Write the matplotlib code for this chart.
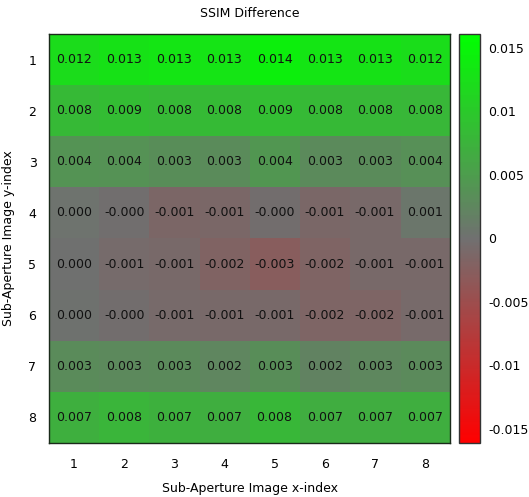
import numpy as np
import matplotlib.pyplot as plt
from matplotlib.colors import LinearSegmentedColormap

x_labels = ['1', '2', '3', '4', '5', '6', '7', '8']
y_labels = ['1', '2', '3', '4', '5', '6', '7', '8']

row1 = [0.0122, 0.0128, 0.0131, 0.0130, 0.0143, 0.0131, 0.0128, 0.0123]
row2 = [0.0082, 0.0086, 0.0083, 0.0084, 0.0088, 0.0082, 0.0081, 0.0080]
row3 = [0.0040, 0.0038, 0.0033, 0.0031, 0.0044, 0.0030, 0.0031, 0.0036]
row4 = [0.0003, -0.0002, -0.0013, -0.0012, -0.0003, -0.0012, -0.0010, 0.0007]
row5 = [0.0001, -0.0007, -0.0010, -0.0018, -0.0027, -0.0017, -0.0010, -0.0009]
row6 = [0.0002, -0.0003, -0.0008, -0.0009, -0.0010, -0.0016, -0.0016, -0.0008]
row7 = [0.0031, 0.0028, 0.0030, 0.0024, 0.0033, 0.0021, 0.0026, 0.0029]
row8 = [0.0071, 0.0077, 0.0072, 0.0070, 0.0080, 0.0069, 0.0069, 0.0070]

data = np.array([row1, row2, row3, row4, row5, row6, row7, row8])
cb_ticks = [0.015, 0.01, 0.005, 0, -0.005, -0.01, -0.015]
cb_labels = ['0.015', '0.01', '0.005', '0', '-0.005', '-0.01', '-0.015']

cmap = LinearSegmentedColormap.from_list(
    'rgg', [(1.0, 0.0, 0.0), (0.44, 0.44, 0.44), (0.0, 1.0, 0.0)])

fig = plt.figure(figsize=(5.29, 4.97), dpi=100)
ax = fig.add_axes([0.0926, 0.1087, 0.7581, 0.8229])
cax = fig.add_axes([0.8686, 0.1087, 0.0388, 0.8229])

im = ax.imshow(data, cmap=cmap, vmin=-0.0161, vmax=0.0161, aspect='auto',
               interpolation='nearest')

for i in range(data.shape[0]):
  for j in range(data.shape[1]):
    ax.text(j, i, '%.3f' % data[i, j], ha='center', va='center',
            fontsize=9, color='#111111')

ax.set_xticks(range(len(x_labels)))
ax.set_xticklabels(x_labels)
ax.set_yticks(range(len(y_labels)))
ax.set_yticklabels(y_labels)
ax.tick_params(axis='x', length=0, pad=11, labelsize=9)
ax.tick_params(axis='y', length=0, pad=9, labelsize=9)
for s in ax.spines.values():
  s.set_color('#1a2a1a')
  s.set_linewidth(1.0)

ax.set_title('SSIM Difference', fontsize=9, pad=12)
ax.set_xlabel('Sub-Aperture Image x-index', fontsize=9, labelpad=8)
ax.set_ylabel('Sub-Aperture Image y-index', fontsize=9, labelpad=10)

cb = fig.colorbar(im, cax=cax)
cb.set_ticks(cb_ticks)
cb.set_ticklabels(cb_labels)
cax.tick_params(length=0, pad=6, labelsize=9)
cb.outline.set_edgecolor('#333333')
cb.outline.set_linewidth(1.0)

fig.savefig('out.png', dpi=100)
